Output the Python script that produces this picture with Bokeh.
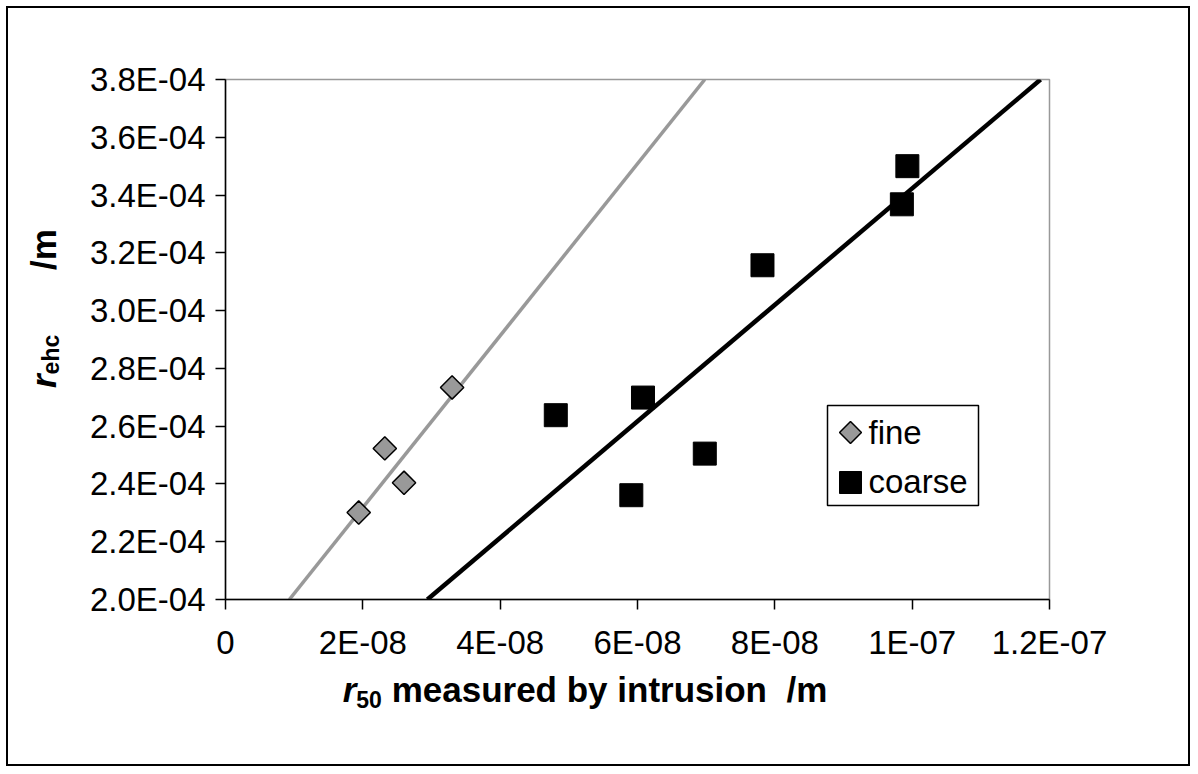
import math
from bokeh.plotting import figure
from bokeh.models import (Range1d, FixedTicker, CustomJSTickFormatter, Label,
                          BoxAnnotation, Div)
from bokeh.layouts import row, column
from bokeh.embed import file_html
from bokeh.resources import INLINE

# ---- data ----
fine_x = [1.94e-8, 2.32e-8, 2.60e-8, 3.30e-8]
fine_y = [2.301e-4, 2.523e-4, 2.404e-4, 2.734e-4]
coarse_x = [4.81e-8, 5.91e-8, 6.08e-8, 6.98e-8, 7.82e-8, 9.85e-8, 9.93e-8]
coarse_y = [2.638e-4, 2.361e-4, 2.699e-4, 2.505e-4, 3.157e-4, 3.368e-4, 3.500e-4]
# trend lines: x where each line meets y = 2.0E-04 and y = 3.8E-04
trend_y = [2.0e-4, 3.8e-4]
fine_trend_x = [0.93e-8, 6.98e-8]
coarse_trend_x = [2.94e-8, 11.87e-8]
x_ticks = [0, 2e-8, 4e-8, 6e-8, 8e-8, 1e-7, 1.2e-7]
y_ticks = [2.0e-4, 2.2e-4, 2.4e-4, 2.6e-4, 2.8e-4, 3.0e-4, 3.2e-4, 3.4e-4, 3.6e-4, 3.8e-4]
series_names = ["fine", "coarse"]

FONT = "Liberation Sans"
GRAY = "#999999"
X0, X1 = 0, 1.2e-7
Y0, Y1 = 2.0e-4, 3.8e-4
FW, FH = 824, 520  # frame size in px

p = figure(width=1110, height=662, output_backend="svg", toolbar_location=None,
           x_range=Range1d(X0, X1), y_range=Range1d(Y0, Y1),
           min_border_left=147, min_border_right=139, min_border_top=71,
           min_border_bottom=71)
p.background_fill_color = "white"
p.border_fill_color = "white"
p.outline_line_color = GRAY
p.outline_line_width = 1.5
p.grid.visible = False

for ax in (p.xaxis[0], p.yaxis[0]):
    ax.axis_line_color = "black"
    ax.axis_line_width = 1.5
    ax.major_tick_line_color = "black"
    ax.major_tick_line_width = 1.5
    ax.major_tick_out = 10
    ax.major_tick_in = 0
    ax.minor_tick_line_color = None
    ax.major_label_text_font = FONT
    ax.major_label_text_font_size = "33px"
    ax.major_label_text_color = "black"

p.xaxis.ticker = FixedTicker(ticks=x_ticks)
p.yaxis.ticker = FixedTicker(ticks=y_ticks)
p.xaxis.formatter = CustomJSTickFormatter(code="""
    if (Math.abs(tick) < 1e-20) return "0";
    const s = Number(tick.toPrecision(6)).toExponential();
    const m = s.match(/^([^e]+)e([+-])(\\d+)$/);
    let e = m[3]; if (e.length < 2) e = "0" + e;
    return m[1] + "E" + m[2] + e;
""")
p.yaxis.formatter = CustomJSTickFormatter(code="""
    const s = Number(tick.toPrecision(6)).toExponential(1);
    const m = s.match(/^([^e]+)e([+-])(\\d+)$/);
    let e = m[3]; if (e.length < 2) e = "0" + e;
    return m[1] + "E" + m[2] + e;
""")
p.xaxis.major_label_standoff = 14
p.yaxis.major_label_standoff = 10

# ---- legend box (drawn under the glyphs; positions from frame pixel offsets) ----
def fx(px):
    return X0 + px / FW * (X1 - X0)

def fy(py):
    return Y1 - py / FH * (Y1 - Y0)

p.add_layout(BoxAnnotation(left=fx(602), right=fx(753), top=fy(326), bottom=fy(426),
                           fill_color="white", fill_alpha=1.0, line_color="black",
                           line_width=1.5, line_alpha=1.0, level="underlay"))

# trend lines
p.line(fine_trend_x, trend_y, line_color=GRAY, line_width=3.5)
p.line(coarse_trend_x, trend_y, line_color="black", line_width=4.5)

p.scatter(fine_x, fine_y, marker="square", angle=math.pi / 4, size=16.5,
          fill_color=GRAY, line_color="black", line_width=1.5)
p.scatter(coarse_x, coarse_y, marker="square", size=23,
          fill_color="black", line_color="black", line_width=1)

# legend samples and labels
p.scatter([fx(625)], [fy(353)], marker="square", angle=math.pi / 4, size=15.5,
          fill_color=GRAY, line_color="black", line_width=1.5)
p.scatter([fx(625)], [fy(403)], marker="square", size=22,
          fill_color="black", line_color="black", line_width=1)
for name, py in zip(series_names, [353, 402]):
    p.add_layout(Label(x=fx(643), y=fy(py), text=name, text_font=FONT,
                       text_font_size="33px", text_color="black",
                       text_baseline="alphabetic", text_align="left"))

# ---- axis titles as HTML (italic r with subscript) ----
TSTYLE = ("font-family:'Liberation Sans',Arial,sans-serif;font-weight:bold;"
          "font-size:35px;line-height:40px;color:black;white-space:nowrap;")
ROT = "transform:rotate(-90deg);transform-origin:0 0;"
ydiv = Div(width=70, height=662, margin=0, text=(
    '<div style="position:relative;width:70px;height:662px;">'
    # r_ehc : starts (bottom) at page y ~388
    '<div style="position:absolute;left:16px;top:380px;' + ROT + TSTYLE + '">'
    '<i>r</i><span style="font-size:23px;position:relative;top:3px;">ehc</span></div>'
    # /m : starts at page y ~268
    '<div style="position:absolute;left:16px;top:262px;' + ROT + TSTYLE + '">'
    '/m</div></div>'))
xdiv = Div(width=1110, height=94, margin=0, text=(
    '<div style="position:relative;width:1110px;height:94px;">'
    '<div style="position:absolute;left:0px;top:0px;width:1014px;height:40px;'
    'text-align:center;' + TSTYLE + '">'
    '<i>r</i><span style="font-size:23px;position:relative;top:6px;">50</span>'
    ' measured by intrusion&nbsp;&nbsp;/m</div></div>'))

layout = row(ydiv, column(p, xdiv, margin=0, spacing=0), margin=0, spacing=0,
             styles={"border": "2px solid black", "margin": "6px 0 0 6px",
                     "background-color": "white"})

open("out.html", "w").write(file_html(layout, INLINE))
